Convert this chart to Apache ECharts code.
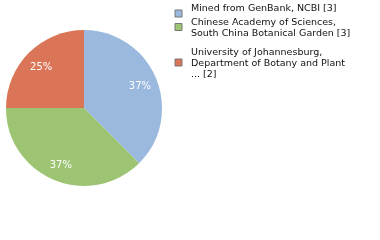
<!DOCTYPE html>
<html><head><meta charset="utf-8">
<script src="https://cdn.jsdelivr.net/npm/echarts@6/dist/echarts.min.js"></script>
<style>html,body{margin:0;padding:0;background:#fff}#c{width:380px;height:240px}</style>
</head><body><div id="c"></div>
<script>
const categories = [
  "Mined from GenBank, NCBI [3]",
  "Chinese Academy of Sciences,\nSouth China Botanical Garden [3]",
  "University of Johannesburg,\nDepartment of Botany and Plant\n... [2]"
];
const values = [3, 3, 2];
const colors = ["#9bb9df", "#9dc472", "#da7558"];

const chart = echarts.init(document.getElementById('c'), null, {renderer: 'canvas'});
const data = categories.map((n, i) => ({name: n, value: values[i], itemStyle: {color: colors[i]}}));
const markerTops = [9.5, 23, 58.5];
const textTops = [3, 17, 47];
const font = 'DejaVu Sans';
chart.setOption({
  animation: false,
  legend: categories.map((n, i) => ({
    data: [n], left: 174.5, top: markerTops[i], orient: 'vertical', padding: 0,
    itemWidth: 7, itemHeight: 7, itemGap: 0, selectedMode: false,
    icon: 'rect', formatter: () => '',
    itemStyle: {borderColor: '#777', borderWidth: 1},
    textStyle: {fontSize: 1}
  })),
  graphic: categories.map((n, i) => ({
    type: 'text', x: 191, y: textTops[i], silent: true,
    style: {text: n, fontFamily: font, fontSize: 9.5, lineHeight: 11, fill: '#111', verticalAlign: 'top', align: 'left'}
  })),
  series: [
    {
      type: 'pie', center: [84, 108], radius: 78, startAngle: 90, clockwise: true,
      label: {show: false}, labelLine: {show: false}, silent: true,
      data: data
    },
    {
      type: 'pie', center: [84, 110], radius: [37, 78], startAngle: 90, clockwise: true,
      silent: true, legendHoverLink: false,
      itemStyle: {color: 'rgba(0,0,0,0)'},
      label: {show: true, position: 'inside', color: '#fff', fontFamily: font, fontSize: 10,
        formatter: p => Math.floor(p.percent) + '%'},
      data: categories.map((n, i) => ({name: n + ' ', value: values[i]}))
    }
  ]
});
</script></body></html>
